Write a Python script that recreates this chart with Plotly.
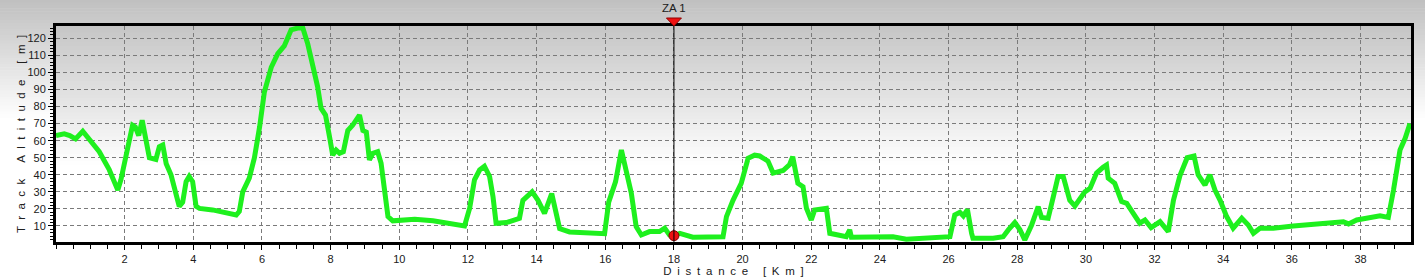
import plotly.graph_objects as go

distance_km = [
    0.00, 0.24, 0.40, 0.57, 0.78, 1.07, 1.26, 1.55, 1.80, 1.89, 2.04, 2.23, 2.31, 2.41, 2.51, 2.62,
    2.72, 2.91, 3.01, 3.11, 3.21, 3.35, 3.50, 3.59, 3.69, 3.79, 3.88, 3.98, 4.08, 4.18, 4.56, 4.95,
    5.25, 5.34, 5.44, 5.63, 5.78, 5.93, 6.07, 6.27, 6.46, 6.65, 6.75, 6.85, 7.04, 7.19, 7.33, 7.48,
    7.62, 7.72, 7.85, 7.97, 8.06, 8.16, 8.26, 8.37, 8.50, 8.64, 8.74, 8.84, 8.94, 9.04, 9.13, 9.23,
    9.37, 9.47, 9.57, 9.67, 9.81, 10.20, 10.45, 10.98, 11.17, 11.56, 11.90, 12.05, 12.19, 12.34,
    12.48, 12.63, 12.73, 12.82, 13.12, 13.50, 13.60, 13.87, 14.04, 14.23, 14.44, 14.57, 14.67,
    14.96, 15.54, 15.98, 16.10, 16.30, 16.47, 16.61, 16.76, 16.90, 17.05, 17.29, 17.58, 17.73,
    17.87, 18.00, 18.17, 18.55, 19.43, 19.53, 19.72, 19.96, 20.16, 20.35, 20.50, 20.74, 20.89,
    21.18, 21.37, 21.46, 21.61, 21.76, 21.86, 22.00, 22.10, 22.44, 22.54, 23.02, 23.12, 23.17,
    24.38, 24.77, 25.74, 26.04, 26.18, 26.33, 26.43, 26.55, 26.67, 26.71, 27.30, 27.59, 27.74,
    27.93, 28.08, 28.22, 28.42, 28.61, 28.71, 28.90, 29.05, 29.19, 29.34, 29.53, 29.68, 29.97,
    30.12, 30.31, 30.50, 30.60, 30.65, 30.84, 31.04, 31.19, 31.38, 31.57, 31.72, 31.90, 32.16,
    32.25, 32.40, 32.55, 32.74, 32.95, 33.15, 33.27, 33.47, 33.61, 33.76, 33.91, 34.10, 34.29,
    34.54, 34.73, 34.88, 35.07, 35.46, 36.04, 36.92, 37.50, 37.65, 37.89, 38.57, 38.81, 38.96,
    39.15, 39.30, 39.44,
]
altitude_m = [
    63, 64, 63, 61, 65.5, 58.5, 53.5, 43, 31, 37, 50.5, 69, 68, 63, 72, 60,
    50, 49, 56.5, 57.5, 46.5, 40, 29, 21.5, 24, 36, 39, 36, 21.5, 20.3, 19.4, 17.4,
    16.4, 18.5, 30, 38, 50, 68, 88.5, 103, 111, 115.5, 121, 125, 126, 126, 117, 105,
    91.7, 79, 75, 62, 51.6, 54.5, 52.6, 53.5, 66, 69, 72, 75, 66, 65, 48.7, 52.6,
    53.5, 46.7, 31, 15.5, 13, 13.5, 14, 13, 12.5, 11.6, 10, 20.4, 37, 42.8,
    45, 39, 27, 11.6, 12, 14.5, 25, 30, 25, 17.4, 29, 17.4, 8.5,
    6.5, 6, 5.5, 24, 36, 54.5, 41, 29, 9.6, 4.7, 6.7, 6.7, 8.7,
    4.7, 4.3, 5.7, 3.4, 3.7, 15.5, 25, 35, 49.7, 51.5, 51, 48, 41,
    42.5, 46, 50.6, 35, 33, 20.4, 13.5, 19.4, 20.4, 5.7, 3.7, 7.7, 3.4,
    3.7, 2.2, 3.4, 3.7, 16.4, 18, 15.9, 19.6, 5.7, 2.8, 2.8, 3.7, 7.7,
    12, 7.7, 1.8, 10.6, 21.3, 15, 14.5, 27, 39, 39, 25, 21.7, 30,
    32, 41, 44.4, 45.7, 38, 35, 24.3, 23.3, 17.4, 11.6, 13.5, 9, 12.5,
    10.6, 6.7, 25, 39.5, 50, 51, 40, 34, 40, 31, 25, 15.5, 8.7,
    14.5, 10.6, 5.7, 8.7, 8.7, 10, 11.2, 12.5, 11.2, 13.5, 15.9, 15, 31,
    54.5, 61.4, 70,
]

x_tick_values = [2, 4, 6, 8, 10, 12, 14, 16, 18, 20, 22, 24, 26, 28, 30, 32, 34, 36, 38]
y_tick_values = [10, 20, 30, 40, 50, 60, 70, 80, 90, 100, 110, 120]

marker_km = 18.0
marker_alt = 4.3
marker_label = "ZA 1"

x_title = "Distance [Km]"
y_title = "Track Altitude [m]"

X_RANGE = [0, 39.47]
Y_RANGE = [0.6, 127.2]

W, H = 1425, 277
ML, MR, MT, MB = 56, 14, 26, 35
PH = H - MT - MB
FAM = "Liberation Sans, Arial, sans-serif"
TXT = "#202020"
GRID = "#7a7a7a"


def spaced(s, sep):
    return sep.join(s)


def grey(v):
    v = int(round(v))
    return f"rgb({v},{v},{v})"


def py_to_paper(p):
    return (H - MB - p) / PH


shapes = []
# outer (page) gradient
n = 40
g0, p_end = 192, 118
for i in range(n):
    a = i / n
    b = (i + 1) / n
    shapes.append(dict(type="rect", xref="paper", yref="paper", layer="below",
                       x0=-0.1, x1=1.1,
                       y0=py_to_paper(b * p_end), y1=py_to_paper(a * p_end) + 0.003,
                       fillcolor=grey(g0 + (255 - g0) * a), line=dict(width=0)))
# plot area gradient
p0, p1, gp = MT, 165, 198
for i in range(n):
    a = i / n
    b = (i + 1) / n
    shapes.append(dict(type="rect", xref="paper", yref="paper", layer="below",
                       x0=0, x1=1,
                       y0=py_to_paper(p0 + b * (p1 - p0)), y1=min(1, py_to_paper(p0 + a * (p1 - p0)) + 0.003),
                       fillcolor=grey(gp + (255 - gp) * a), line=dict(width=0)))

# marker vertical line
shapes.append(dict(type="line", xref="x", yref="paper", x0=marker_km, x1=marker_km,
                   y0=0, y1=1, line=dict(color="black", width=1), layer="above"))
# marker triangle (pointing down) sitting on the top frame, sized in pixels
shapes.append(dict(type="path", xref="x", yref="paper", layer="above",
                   xsizemode="pixel", ysizemode="pixel", xanchor=marker_km, yanchor=1,
                   path="M -7.5 8 L 7.5 8 L 0 0 Z",
                   fillcolor="#ee1111", line=dict(color="#900000", width=1)))

fig = go.Figure()
fig.add_trace(go.Scatter(x=distance_km, y=altitude_m, mode="lines",
                         line=dict(color="#1ef01e", width=5), hoverinfo="skip",
                         showlegend=False))
fig.add_trace(go.Scatter(x=[marker_km], y=[marker_alt], mode="markers",
                         marker=dict(color="#ee1111", size=10, line=dict(color="#800000", width=1)),
                         cliponaxis=False, showlegend=False))

fig.add_annotation(x=marker_km, y=1, xref="x", yref="paper", text=marker_label,
                   showarrow=False, yanchor="bottom", yshift=10,
                   font=dict(family=FAM, size=11.5, color=TXT))

font = dict(family=FAM, size=11, color=TXT)
fig.update_layout(
    width=W, height=H,
    margin=dict(l=ML, r=MR, t=MT, b=MB, pad=0),
    paper_bgcolor="white", plot_bgcolor="rgba(0,0,0,0)",
    font=font,
    shapes=shapes,
    showlegend=False,
    xaxis=dict(
        range=X_RANGE, tickmode="array", tickvals=x_tick_values, automargin=False,
        ticks="outside", ticklen=5, tickcolor="black", tickwidth=1,
        showgrid=True, gridcolor=GRID, griddash="4px,3px", gridwidth=1,
        showline=True, linecolor="black", linewidth=3, mirror=True,
        zeroline=False, tickfont=font,
        minor=dict(tick0=0, dtick=0.5, ticks="outside", ticklen=4, tickcolor="black", showgrid=False),
        title=dict(text=spaced(x_title, "\u2002"), font=dict(family=FAM, size=11.5, color=TXT),
                   standoff=3),
    ),
    yaxis=dict(
        range=Y_RANGE, tickmode="array", tickvals=y_tick_values, automargin=False,
        ticks="outside", ticklen=5, tickcolor="black", tickwidth=1,
        showgrid=True, gridcolor=GRID, griddash="4px,3px", gridwidth=1,
        showline=True, linecolor="black", linewidth=3, mirror=True,
        zeroline=False, tickfont=font,
        minor=dict(tick0=0, dtick=2, ticks="outside", ticklen=3, tickcolor="black", showgrid=False),
        title=dict(text=spaced(y_title, "\u2007"), font=dict(family=FAM, size=11.5, color=TXT),
                   standoff=0),
    ),
)

fig.write_html("out.html")
